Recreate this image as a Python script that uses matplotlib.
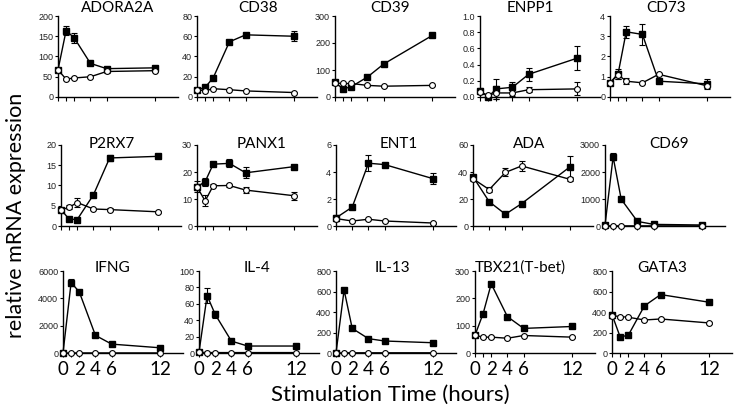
import matplotlib
matplotlib.use("Agg")
from matplotlib import pyplot as plt

# time points (hours)
t_all = [0, 1, 2, 4, 6, 12]
t_no1 = [0, 2, 4, 6, 12]

genes = ["ADORA2A", "CD38", "CD39", "ENPP1", "CD73",
         "P2RX7", "PANX1", "ENT1", "ADA", "CD69",
         "IFNG", "IL-4", "IL-13", "TBX21(T-bet)", "GATA3"]

# stimulated (filled squares)
stim = {
    "ADORA2A": [67, 164, 146, 83, 70, 72],
    "CD38": [7, 9.5, 19, 54.5, 61.4, 60],
    "CD39": [54, 30, 38, 74, 122, 228],
    "ENPP1": [0.08, 0.0, 0.1, 0.12, 0.28, 0.48],
    "CD73": [0.7, 1.15, 3.22, 3.09, 0.78, 0.65],
    "P2RX7": [4.05, 1.7, 1.6, 7.7, 16.8, 17.2],
    "PANX1": [14.5, 16.4, 22.9, 23.2, 19.7, 22.0],
    "ENT1": [0.6, 1.4, 4.65, 4.55, 3.5],
    "ADA": [36.5, 18.0, 8.7, 16.6, 44.0],
    "CD69": [25, 2560, 990, 170, 60, 37],
    "IFNG": [0, 5150, 4480, 1290, 650, 380],
    "IL-4": [1, 70, 47, 14.5, 8.5, 8.5],
    "IL-13": [0, 615, 240, 140, 117, 100],
    "TBX21(T-bet)": [65, 144, 253, 133, 90, 97],
    "GATA3": [375, 158, 172, 460, 570, 495],
}
stim_err = {
    "ADORA2A": [0, 12, 12, 3, 3, 3],
    "CD38": [1, 1, 1, 1, 1, 5],
    "CD39": [3, 3, 3, 3, 3, 7],
    "ENPP1": [0.03, 0.02, 0.12, 0.06, 0.08, 0.15],
    "CD73": [0.1, 0.25, 0.3, 0.5, 0.05, 0.25],
    "P2RX7": [0.3, 0.3, 0.3, 0.3, 0.8, 0.3],
    "PANX1": [2, 1.5, 0.5, 1.5, 2, 0.5],
    "ENT1": [0.2, 0.1, 0.6, 0.1, 0.4],
    "ADA": [1, 1, 1, 1, 8],
    "CD69": [10, 130, 40, 20, 10, 10],
    "IFNG": [0, 250, 100, 50, 50, 30],
    "IL-4": [0.5, 9, 4, 1, 1, 1],
    "IL-13": [0, 20, 10, 5, 5, 5],
    "TBX21(T-bet)": [3, 5, 5, 5, 5, 5],
    "GATA3": [20, 10, 10, 15, 15, 20],
}
# unstimulated (open circles)
ctrl = {
    "ADORA2A": [67, 44, 47, 50, 63, 65],
    "CD38": [7, 6.2, 8.2, 7.2, 6, 4.4],
    "CD39": [52, 50, 50, 43, 40, 43],
    "ENPP1": [0.06, 0.02, 0.05, 0.05, 0.09, 0.1],
    "CD73": [0.7, 1.1, 0.78, 0.7, 1.12, 0.55],
    "P2RX7": [4.0, 4.6, 5.8, 4.2, 4.05, 3.5],
    "PANX1": [14.5, 9.3, 14.9, 15.0, 13.3, 11.2],
    "ENT1": [0.55, 0.37, 0.5, 0.37, 0.22],
    "ADA": [35, 27, 39.7, 44.5, 34.5],
    "CD69": [10, 5, 5, 5, 5, 5],
    "IFNG": [0, 5, 5, 5, 5, 5],
    "IL-4": [1, 0.5, 0.5, 0.5, 0.5, 0.5],
    "IL-13": [0, 2, 2, 2, 2, 2],
    "TBX21(T-bet)": [65, 58, 58, 54, 64, 58],
    "GATA3": [365, 355, 349, 322, 332, 293],
}
ctrl_err = {
    "ADORA2A": [0, 2, 2, 2, 3, 3],
    "CD38": [0.5, 0.5, 0.5, 0.5, 0.5, 0.5],
    "CD39": [2, 2, 2, 2, 2, 2],
    "ENPP1": [0.02, 0.02, 0.08, 0.04, 0.03, 0.08],
    "CD73": [0.05, 0.2, 0.15, 0.05, 0.05, 0.1],
    "P2RX7": [0.3, 0.5, 1.0, 0.3, 0.3, 0.3],
    "PANX1": [1, 2, 0.5, 0.5, 1, 1.5],
    "ENT1": [0.05, 0.05, 0.05, 0.05, 0.05],
    "ADA": [2, 2, 3, 4, 1],
    "CD69": [0, 0, 0, 0, 0, 0],
    "IFNG": [0, 0, 0, 0, 0, 0],
    "IL-4": [0, 0, 0, 0, 0, 0],
    "IL-13": [0, 0, 0, 0, 0, 0],
    "TBX21(T-bet)": [3, 3, 3, 3, 3, 3],
    "GATA3": [15, 10, 10, 10, 10, 10],
}
yticks = {
    "ADORA2A": [0, 50, 100, 150, 200],
    "CD38": [0, 20, 40, 60, 80],
    "CD39": [0, 100, 200, 300],
    "ENPP1": [0.0, 0.2, 0.4, 0.6, 0.8, 1.0],
    "CD73": [0, 1, 2, 3, 4],
    "P2RX7": [0, 5, 10, 15, 20],
    "PANX1": [0, 10, 20, 30],
    "ENT1": [0, 2, 4, 6],
    "ADA": [0, 20, 40, 60],
    "CD69": [0, 1000, 2000, 3000],
    "IFNG": [0, 2000, 4000, 6000],
    "IL-4": [0, 20, 40, 60, 80, 100],
    "IL-13": [0, 200, 400, 600, 800],
    "TBX21(T-bet)": [0, 100, 200, 300],
    "GATA3": [0, 200, 400, 600, 800],
}

W, H = 736, 415
fig = plt.figure(figsize=(W / 100, H / 100), dpi=100)

# layout in pixels
lefts = [[58, 197, 335, 480, 610],
         [61, 197, 336, 473, 605],
         [63, 199, 336, 475, 612]]
tops = [16, 145, 271]
heights = [81, 81, 82]
ax_w = 120
title_dy = [8, 1.5, 3.5]
title_x = [[0.5, 0.51, 0.46, 0.42, 0.47],
           [0.42, 0.54, 0.52, 0.47, 0.53],
           [0.41, 0.48, 0.47, 0.38, 0.42]]

title_font = ["Lato", "DejaVu Sans"]

for i, g in enumerate(genes):
    r, c = divmod(i, 5)
    x0 = lefts[r][c]
    ax = fig.add_axes([x0 / W, 1 - (tops[r] + heights[r]) / H, ax_w / W, heights[r] / H])
    t = t_no1 if g in ("ENT1", "ADA") else t_all
    ax.errorbar(t, stim[g], yerr=stim_err[g], color="black", lw=1.0, marker="s",
                ms=4.2, mfc="black", mec="black", capsize=2.2, elinewidth=0.8,
                capthick=0.8, clip_on=False, zorder=3)
    ax.errorbar(t, ctrl[g], yerr=ctrl_err[g], color="black", lw=1.0, marker="o",
                ms=4.2, mfc="white", mec="black", mew=0.8, capsize=2.2,
                elinewidth=0.8, capthick=0.8, clip_on=False, zorder=4)
    ax.set_xlim(0, 14.8)
    ax.set_ylim(0, yticks[g][-1])
    ax.set_yticks(yticks[g])
    if g == "ENPP1":
        ax.set_yticklabels([f"{v:.1f}" for v in yticks[g]])
    for lab in ax.get_yticklabels():
        lab.set_family("Liberation Sans")
    ax.set_xticks(t)
    if r == 2:
        ax.set_xticklabels(["" if v == 1 else str(v) for v in t],
                           fontsize=13.5, family=title_font)
    else:
        ax.set_xticklabels([])
    ax.spines["top"].set_visible(False)
    ax.spines["right"].set_visible(False)
    for s in ("left", "bottom"):
        ax.spines[s].set_linewidth(1.0)
    ax.tick_params(axis="y", labelsize=6.5, length=2.5, width=0.8, pad=1,
                   labelcolor="#222222")
    ax.tick_params(axis="x", length=3, width=0.8, pad=3)
    ax.text(title_x[r][c], 1 + title_dy[r] / heights[r], g, transform=ax.transAxes,
            ha="center", va="center", fontsize=11, family=title_font)

fig.text(390 / W, 1 - 395 / H, "Stimulation Time (hours)", ha="center",
         va="center", fontsize=16, family=title_font)
fig.text(16 / W, 1 - 215 / H, "relative mRNA expression", ha="center",
         va="center", rotation=90, fontsize=15.5, family=title_font)

fig.savefig("out.png", dpi=100)
